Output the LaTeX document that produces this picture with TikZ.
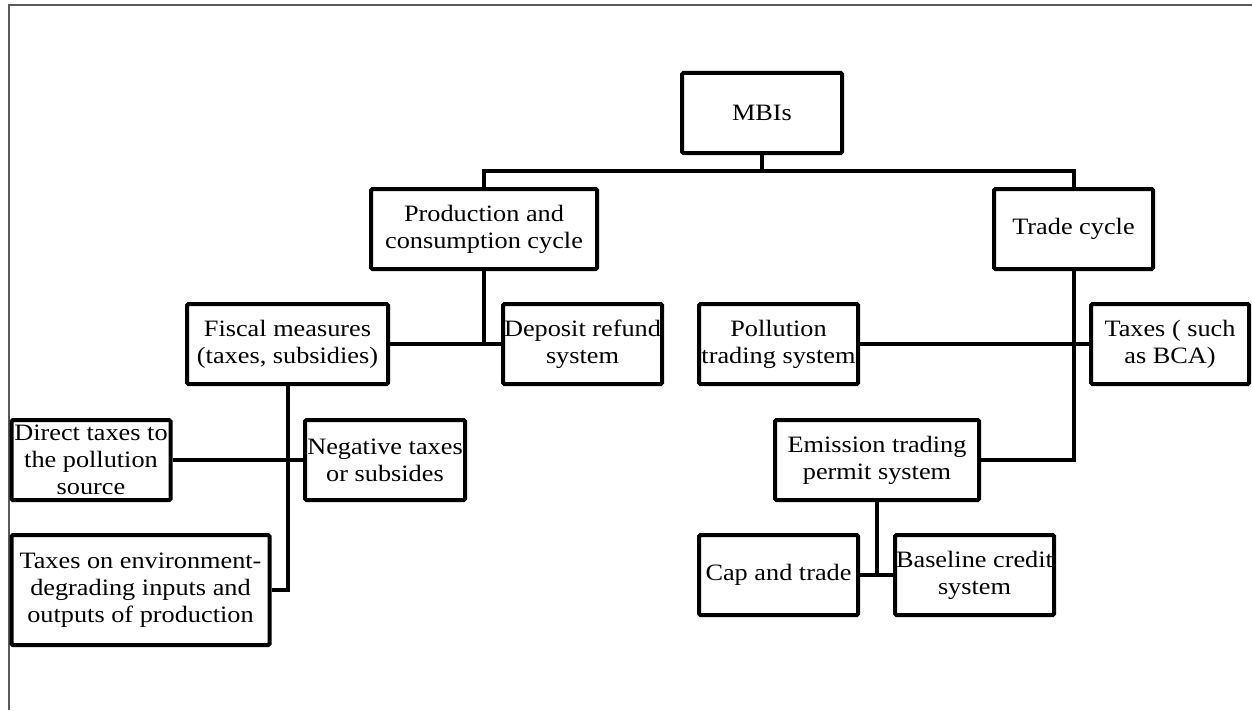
\documentclass[tikz,border=0pt]{standalone}
\usepackage{fontspec}
\setmainfont{Liberation Serif}[FakeStretch=1.12]
\begin{document}
\begin{tikzpicture}[x=0.75pt,y=-0.75pt,
  box/.style={draw, line width=3pt, rounded corners=1pt, inner sep=0pt,
              minimum height=60pt},
  txt/.style={align=center, inner sep=0pt, font=\fontsize{17.6}{20.3}\selectfont},
  link/.style={line width=3pt}]
\useasboundingbox (0,0) rectangle (1252,710);
% page frame
\draw[gray!70!black, line width=1.1pt] (9,710) -- (9,5) -- (1252,5);

% boxes
\node[box, minimum width=120pt]    (mbi)       at (762,113)   {};
\node[box, minimum width=169.5pt]  (prod)      at (484,229)   {};
\node[box, minimum width=119.25pt] (trade)     at (1073.5,229) {};
\node[box, minimum width=150.75pt] (fiscal)    at (287.5,344) {};
\node[box, minimum width=119.25pt] (deposit)   at (582.5,344) {};
\node[box, minimum width=119.25pt] (pollution) at (778.5,344) {};
\node[box, minimum width=118.5pt]  (taxes)     at (1170,344)  {};
\node[box, minimum width=119.25pt] (direct)    at (91,460)    {};
\node[box, minimum width=120pt]    (negative)  at (385,460)   {};
\node[box, minimum width=153pt]    (emission)  at (877,460)   {};
\node[box, minimum width=193.5pt, minimum height=82.5pt] (taxenv) at (140.5,590) {};
\node[box, minimum width=119.25pt] (cap)       at (778.5,575) {};
\node[box, minimum width=119.25pt] (baseline)  at (974.5,575) {};

% labels
\node[txt] (mbi-t)       at (mbi)       {MBIs};
\node[txt] (prod-t)      at (prod)      {Production and\\consumption cycle};
\node[txt] (trade-t)     at (trade)     {Trade cycle};
\node[txt] (fiscal-t)    at (fiscal)    {Fiscal measures\\(taxes, subsidies)};
\node[txt] (deposit-t)   at (deposit)   {Deposit refund\\system};
\node[txt] (pollution-t) at (pollution) {Pollution\\trading system};
\node[txt] (taxes-t)     at (taxes)     {Taxes ( such\\as BCA)};
\node[txt] (direct-t)    at (direct)    {Direct taxes to\\the pollution\\source};
\node[txt] (negative-t)  at (negative)  {Negative taxes\\or subsides};
\node[txt] (emission-t)  at (emission)  {Emission trading\\permit system};
\node[txt] (taxenv-t)    at (taxenv)    {Taxes on environment-\\degrading inputs and\\outputs of production};
\node[txt] (cap-t)       at (cap)       {Cap and trade};
\node[txt] (baseline-t)  at (baseline)  {Baseline credit\\system};

% connectors
\coordinate (bus) at (762,171);
\draw[link] (mbi.south) -- (bus);
\draw[link] (prod.north) |- (bus) -| (trade.north);
\draw[link] (prod.south) -- (prod.south |- fiscal.east);
\draw[link] (fiscal.east) -- (deposit.west);
\draw[link] (pollution.east) -- (taxes.west);
\draw[link] (trade.south) |- (emission.east);
\draw[link] (fiscal.south) |- (taxenv.east);
\draw[link] (direct.east) -- (negative.west);
\draw[link] (emission.south) -- (emission.south |- cap.east);
\draw[link] (cap.east) -- (baseline.west);
\end{tikzpicture}
\end{document}
